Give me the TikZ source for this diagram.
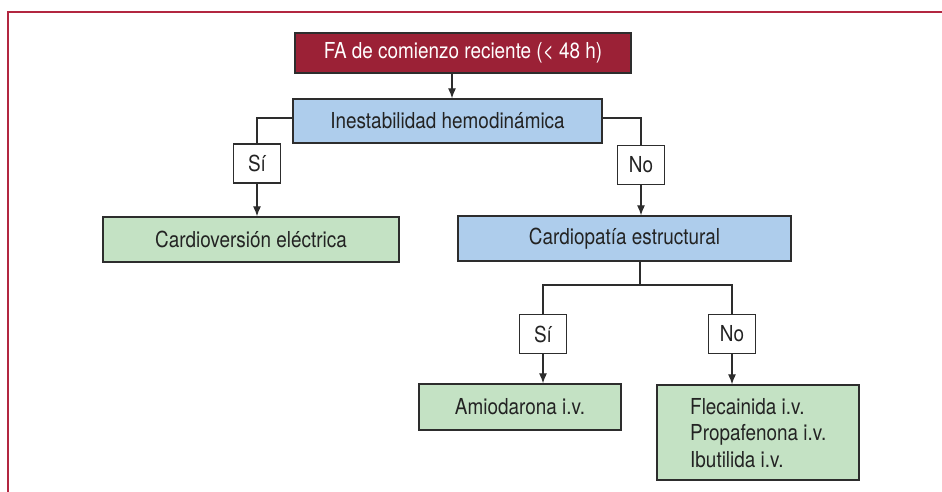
\documentclass[tikz,border=0pt]{standalone}
\usepackage{fontspec}
\setmainfont[FakeStretch=0.86]{TeX Gyre Heros}
\usetikzlibrary{arrows.meta}
\definecolor{framered}{RGB}{178,38,64}
\definecolor{farred}{RGB}{155,33,54}
\definecolor{boxblue}{RGB}{174,205,236}
\definecolor{boxgreen}{RGB}{196,226,196}
\definecolor{edge}{RGB}{45,45,45}
\definecolor{txt}{RGB}{35,35,35}
\tikzset{
  box/.style={draw=edge, line width=1.3pt, inner sep=0pt, text=txt,
    font=\fontsize{22}{27}\selectfont},
  startbox/.style={box, fill=farred, text=white},
  qbox/.style={box, fill=boxblue},
  abox/.style={box, fill=boxgreen},
  lbl/.style={box, fill=white, minimum width=47pt, minimum height=39pt},
  conn/.style={draw=edge, line width=1.2pt},
  arr/.style={conn, -{Latex[length=10pt,width=8pt]}},
  frameline/.style={draw=framered, line width=1.6pt}
}
\begin{document}
\begin{tikzpicture}[x=1pt,y=-1pt]
\useasboundingbox (0,0) rectangle (942,492);
\draw[frameline] (942,12) -- (8,12) -- (8,492);

\node[startbox, minimum width=336pt, minimum height=40pt] (fa) at (463,53) {FA de comienzo reciente (< 48 h)};
\node[qbox, minimum width=309pt, minimum height=44pt] (ine) at (447.5,121) {Inestabilidad hemodinámica};
\node[lbl] (si1) at (257,163.5) {Sí};
\node[lbl] (no1) at (641,165) {No};
\node[abox, minimum width=296pt, minimum height=45pt] (cv) at (251,239.5) {Cardioversión eléctrica};
\node[qbox, minimum width=333pt, minimum height=45pt] (cp) at (624.5,238.5) {Cardiopatía estructural};
\node[lbl] (si2) at (543,334) {Sí};
\node[lbl] (no2) at (732,334) {No};
\node[abox, minimum width=202pt, minimum height=46pt] (am) at (520,407) {Amiodarona i.v.};
\node[abox, minimum width=202pt, minimum height=95pt] (fl) at (758,432.5) {};
\node[anchor=west, inner sep=0pt, align=left, text=txt, font=\fontsize{22}{26.5}\selectfont] (fltxt) at (690,433) {Flecainida i.v.\\Propafenona i.v.\\Ibutilida i.v.};

\coordinate (fx) at (452,0);
\draw[arr] (fa.south -| fx) -- (ine.north -| fx);
\draw[conn] (ine.west |- 0,118) -| (si1.north);
\draw[conn] (ine.east |- 0,118) -| (no1.north);
\draw[arr] (si1.south) -- (cv.north -| si1.south);
\draw[arr] (no1.south) -- (cp.north -| no1.south);
\coordinate (j) at (640,285);
\draw[conn] (cp.south -| j) -- (j);
\draw[conn] (si2.north) -- (si2.north |- j) -- (no2.north |- j) -- (no2.north);
\draw[arr] (si2.south) -- (am.north -| si2.south);
\draw[arr] (no2.south) -- (fl.north -| no2.south);
\end{tikzpicture}
\end{document}
